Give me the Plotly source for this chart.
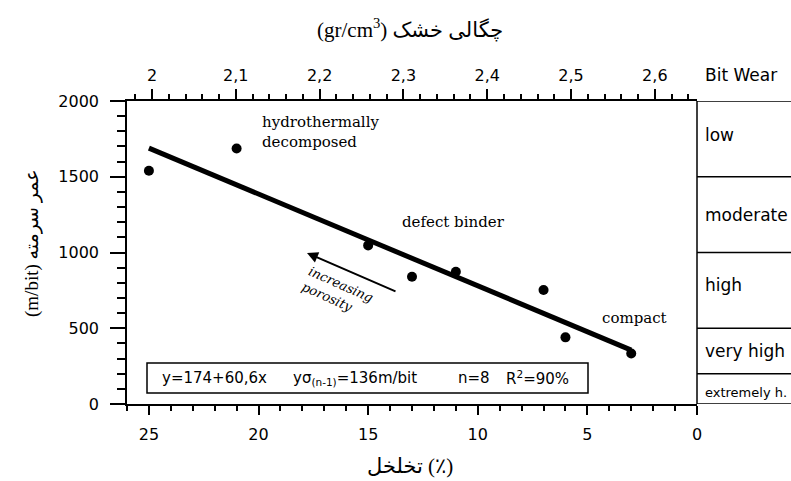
import plotly.graph_objects as go

# Porosity (%) against measured bit life (m/bit)
porosity = [25, 21, 15, 13, 11, 7, 6, 3]
bit_life = [1540, 1687, 1047, 840, 873, 753, 440, 333]

# Linear fit y = a + b*x over the sampled porosity span
fit_intercept = 174
fit_slope = 60.6
fit_span = [25, 3]

porosity_ticks = [25, 20, 15, 10, 5, 0]
life_ticks = [0, 500, 1000, 1500, 2000]
density_ticks = [2.0, 2.1, 2.2, 2.3, 2.4, 2.5, 2.6]
density_labels = ["2", "2,1", "2,2", "2,3", "2,4", "2,5", "2,6"]

# Bit wear classes and their bit-life limits (m/bit)
wear_levels = ["low", "moderate", "high", "very high", "extremely h."]
wear_bounds = [2000, 1500, 1000, 500, 200, 0]

W, H = 791, 481
LEFT, RIGHT, TOP, BOTTOM = 127, 697, 101, 404


def px(x):
    return x / W


def py(y):
    return 1 - y / H


SANS = "DejaVu Sans"
SERIF = "DejaVu Serif"
TITLE = "Liberation Serif, DejaVu Sans"

fit_y = [fit_intercept + fit_slope * x for x in fit_span]

fig = go.Figure()
fig.add_trace(go.Scatter(
    x=fit_span, y=fit_y, mode="lines",
    line=dict(color="black", width=5), showlegend=False, hoverinfo="skip"))
fig.add_trace(go.Scatter(
    x=porosity, y=bit_life, mode="markers",
    marker=dict(color="black", size=10), showlegend=False))
# carrier for the dry-density axis along the top
fig.add_trace(go.Scatter(
    x=[density_ticks[0]], y=[life_ticks[0]], xaxis="x2", mode="markers",
    marker=dict(opacity=0), showlegend=False, hoverinfo="skip"))

axis_common = dict(showline=True, linecolor="black", linewidth=1.5,
                   showgrid=False, zeroline=False, ticks="outside",
                   tickcolor="black", tickwidth=1.5, automargin=False,
                   tickfont=dict(family=SANS, size=16, color="black"))

fig.update_layout(
    width=W, height=H,
    margin=dict(l=0, r=0, t=0, b=0, pad=0, autoexpand=False),
    paper_bgcolor="white", plot_bgcolor="white",
    xaxis=dict(domain=[px(LEFT), px(RIGHT)], range=[26, 0],
               tickvals=porosity_ticks, ticklen=9,
               minor=dict(dtick=1, tick0=0, ticks="outside", ticklen=5,
                          tickcolor="black", tickwidth=1.5),
               ticklabelstandoff=6, **axis_common),
    xaxis2=dict(domain=[px(LEFT), px(RIGHT)], range=[1.9702, 2.6503],
                overlaying="x", side="top", anchor="y",
                tickvals=density_ticks, ticktext=density_labels, ticklen=10,
                minor=dict(dtick=0.02, tick0=2, ticks="outside", ticklen=5,
                           tickcolor="black", tickwidth=1.5),
                ticklabelstandoff=2, **axis_common),
    yaxis=dict(domain=[py(BOTTOM), py(TOP)], range=[0, 2000],
               tickvals=life_ticks, ticklen=15,
               minor=dict(dtick=100, ticks="outside", ticklen=8,
                          tickcolor="black", tickwidth=1.5),
               ticklabelstandoff=8, **axis_common),
)

shapes = []
# bit wear panel to the right of the plot
shapes.append(dict(type="line", xref="paper", yref="y",
                   x0=px(RIGHT), x1=px(RIGHT), y0=wear_bounds[-1], y1=wear_bounds[0],
                   line=dict(color="black", width=1.5)))
for b in wear_bounds:
    shapes.append(dict(type="line", xref="paper", yref="y",
                       x0=px(RIGHT), x1=1, y0=b, y1=b,
                       line=dict(color="black", width=1.5)))
# frame around the regression statistics
shapes.append(dict(type="rect", xref="paper", yref="paper",
                   x0=px(147), x1=px(588), y0=py(393), y1=py(363),
                   line=dict(color="black", width=1.5), fillcolor="white",
                   layer="below"))
fig.update_layout(shapes=shapes)


def note(text, x, y, xanchor="center", **kw):
    d = dict(text=text, xref="paper", yref="paper", x=px(x), y=py(y),
             xanchor=xanchor, yanchor="middle", showarrow=False)
    d.update(kw)
    return d


ann = []
ann.append(note("(gr/cm<sup>3</sup>) چگالی خشک", 410, 28,
                font=dict(family=TITLE, size=21, color="black")))
ann.append(note("تخلخل (٪)", 410, 466,
                font=dict(family=TITLE, size=21, color="black")))
ann.append(note("(m/bit) عمر سرمته", 32, 243, textangle=-90,
                font=dict(family=TITLE, size=19, color="black")))
ann.append(note("Bit Wear", 703, 75, xanchor="left",
                font=dict(family=SANS, size=17, color="black")))
label_shift = [4, 0, 5, 0, -4]
for i, lvl in enumerate(wear_levels):
    mid = (wear_bounds[i] + wear_bounds[i + 1]) / 2
    ann.append(dict(text=lvl, xref="paper", yref="y", x=px(703), y=mid,
                    xanchor="left", yanchor="middle", showarrow=False,
                    yshift=label_shift[i],
                    font=dict(family=SANS, size=13 if i == 4 else 17, color="black")))

ann.append(note("hydrothermally<br>decomposed", 260, 132, xanchor="left", align="left",
                font=dict(family=SERIF, size=15, color="black")))
ann.append(note("defect binder", 400, 222, xanchor="left",
                font=dict(family=SERIF, size=15, color="black")))
ann.append(note("compact", 600, 318, xanchor="left",
                font=dict(family=SERIF, size=15, color="black")))
ann.append(dict(text="", xref="paper", yref="paper", x=px(307), y=py(253),
                ax=90, ay=39, showarrow=True, arrowhead=2, arrowsize=1.1,
                arrowwidth=2, arrowcolor="black"))
ann.append(note("<i>increasing<br>porosity</i>", 337, 292, textangle=24, align="left",
                font=dict(family=SERIF, size=13, color="black")))

stats = [
    ("y=174+60,6x", 160),
    ("yσ<sub>(n-1)</sub>=136m/bit", 291),
    ("n=8", 456),
    ("R<sup>2</sup>=90%", 504),
]
for txt, x0 in stats:
    ann.append(note(txt, x0, 378, xanchor="left",
                    font=dict(family=SANS, size=15, color="black")))

fig.update_layout(annotations=ann)
fig.write_html("out.html")
